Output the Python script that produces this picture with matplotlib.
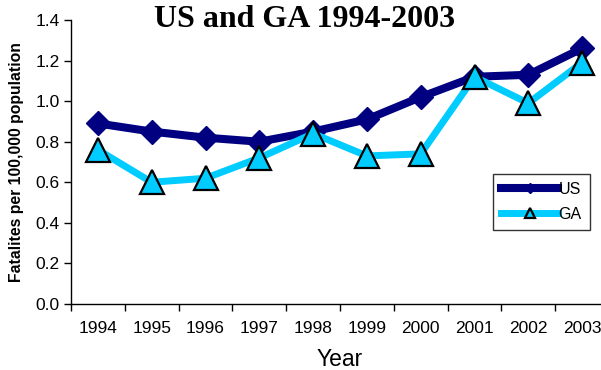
import matplotlib
matplotlib.use("Agg")
import matplotlib.pyplot as plt
import numpy as np

years = ["1994", "1995", "1996", "1997", "1998", "1999", "2000", "2001", "2002", "2003"]
us_rate = [0.89, 0.85, 0.82, 0.80, 0.85, 0.91, 1.02, 1.12, 1.13, 1.26]
ga_rate = [0.76, 0.60, 0.62, 0.72, 0.84, 0.73, 0.74, 1.12, 0.99, 1.19]

plt.rcParams["font.family"] = ["Liberation Sans", "DejaVu Sans"]

fig = plt.figure(figsize=(6.01, 3.70), dpi=100)
# plot area runs a little past the right edge of the figure
ax = fig.add_axes([71 / 601, 66 / 370, 538 / 601, 284 / 370])

x = np.arange(len(years)) + 0.5
ax.plot(x, us_rate, color="#000080", lw=5.8, marker="D", ms=12.7,
        mfc="#000080", mec="#000080", label="US", zorder=3)
ax.plot(x, ga_rate, color="#00CCFF", lw=5.0, marker="^", ms=17,
        mfc="#00CCFF", mec="black", mew=1.6, label="GA", zorder=4)

ax.set_xlim(0, len(years))
ax.set_ylim(0, 1.4)
ax.set_yticks(np.arange(0, 1.41, 0.2))
ax.set_yticklabels(["%.1f" % v for v in np.arange(0, 1.41, 0.2)], fontsize=12.5)
ax.set_xticks(np.arange(len(years)))
ax.set_xticklabels([])
ax.set_xticks(x, minor=True)
ax.set_xticklabels(years, minor=True, fontsize=12.5)
ax.tick_params(axis="x", which="minor", length=0, pad=12)
ax.tick_params(axis="x", which="major", length=5, width=1, direction="out")
ax.tick_params(axis="y", length=5, width=1, direction="out", pad=3)

for side in ["top", "right"]:
    ax.spines[side].set_visible(False)
for side in ["left", "bottom"]:
    ax.spines[side].set_linewidth(1)

fig.text(17 / 601, 1 - 162 / 370, "Fatalites per 100,000 population", fontsize=11.3,
         fontweight="bold", rotation=90, ha="center", va="center")
fig.text(340 / 601, 1 - 366 / 370, "Year", fontsize=16.5, ha="center", va="baseline")

fig.text(305 / 601, 1 - 27 / 370, "US and GA 1994-2003", fontsize=23, fontweight="bold",
         family=["Liberation Serif", "DejaVu Serif"], ha="center", va="baseline")

leg = fig.legend(loc="upper left", bbox_to_anchor=(493 / 601, 1 - 174 / 370),
                 fontsize=11.5, markerscale=0.4, frameon=True, fancybox=False,
                 handlelength=3.6, handletextpad=0.0, borderpad=0.5,
                 labelspacing=0.6, borderaxespad=0)
leg.get_frame().set_edgecolor("black")
leg.get_frame().set_linewidth(1)

fig.savefig("out.png", dpi=100)
